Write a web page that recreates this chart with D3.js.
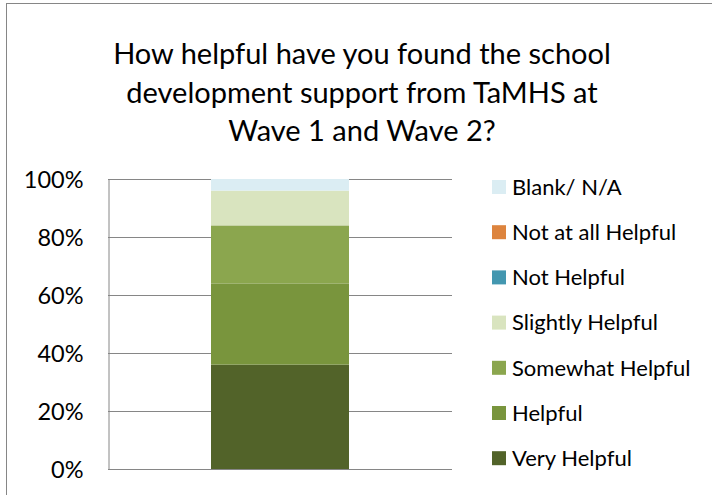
<!DOCTYPE html>
<html><head><meta charset="utf-8">
<script src="https://cdn.jsdelivr.net/npm/d3@7"></script>
<style>html,body{margin:0;padding:0;background:#fff;}svg{display:block;}</style>
</head><body>
<svg id="chart" width="712" height="495"></svg>
<script>
const titleLines = ["How helpful have you found the school", "development support from TaMHS at", "Wave 1 and Wave 2?"];
const categories = ["Wave 1 and Wave 2"];
const seriesNames = ["Very Helpful", "Helpful", "Somewhat Helpful", "Slightly Helpful", "Not Helpful", "Not at all Helpful", "Blank/ N/A"];
const seriesValues = [36, 28, 20, 12, 0, 0, 4];
const seriesColors = ["#526329", "#79953D", "#8BA64E", "#D9E4BF", "#4397B0", "#DD843E", "#DBEDF3"];
const tickValues = [0, 0.2, 0.4, 0.6, 0.8, 1.0];

const font = "Lato, 'Open Sans', sans-serif";
const svg = d3.select("#chart");

// outer frame
svg.append("rect").attr("x", 6.5).attr("y", 3.5).attr("width", 720).attr("height", 500)
  .attr("fill", "#fff").attr("stroke", "#868686").attr("stroke-width", 1);

// title
svg.append("text").attr("x", 362).attr("y", 64).attr("text-anchor", "middle")
  .attr("font-family", font).attr("font-size", 29).attr("fill", "#000")
  .selectAll("tspan").data(titleLines).join("tspan")
  .attr("x", 362).attr("dy", (d, i) => i === 0 ? 0 : 38.5).text(d => d);

const plot = {left: 108, right: 452, top: 179, bottom: 469};
const y = d3.scaleLinear().domain([0, 1]).range([plot.bottom, plot.top]);

// gridlines
svg.append("g").selectAll("line").data(tickValues).join("line")
  .attr("x1", plot.left).attr("x2", plot.right)
  .attr("y1", d => Math.round(y(d)) + 0.5).attr("y2", d => Math.round(y(d)) + 0.5)
  .attr("stroke", "#868686").attr("stroke-width", 1);

// y axis
const yAxis = d3.axisLeft(y).tickValues(tickValues).tickSize(0).tickPadding(25)
  .tickFormat(d3.format(".0%"));
const gy = svg.append("g").attr("transform", `translate(${plot.left + 0.5},0)`).call(yAxis);
gy.select(".domain").attr("stroke", "#868686");
gy.selectAll("text").attr("font-family", font).attr("font-size", 23.5).attr("fill", "#000").attr("dy", "0.35em");

// stacked data
const total = d3.sum(seriesValues);
const row = {cat: categories[0]};
seriesNames.forEach((s, i) => row[s] = seriesValues[i] / total);
const stack = d3.stack().keys(seriesNames)([row]);
const color = d3.scaleOrdinal().domain(seriesNames).range(seriesColors);

// bar centred at x 280, width 138
const barW = 138, barX = 280 - barW / 2;
svg.append("g").selectAll("rect").data(stack).join("rect")
  .attr("x", barX).attr("width", barW)
  .attr("y", d => y(d[0][1])).attr("height", d => y(d[0][0]) - y(d[0][1]))
  .attr("fill", d => color(d.key));

// legend (reversed order)
const legendItems = seriesNames.slice().reverse();
const lg = svg.append("g");
const rows = lg.selectAll("g").data(legendItems).join("g")
  .attr("transform", (d, i) => `translate(492,${187 + i * 45.2})`);
rows.append("rect").attr("x", 0).attr("y", -7).attr("width", 14).attr("height", 14).attr("fill", d => color(d));
rows.append("text").attr("x", 20).attr("y", 0).attr("dy", "0.35em")
  .attr("font-family", font).attr("font-size", 22).attr("fill", "#000").text(d => d);
</script>
</body></html>
